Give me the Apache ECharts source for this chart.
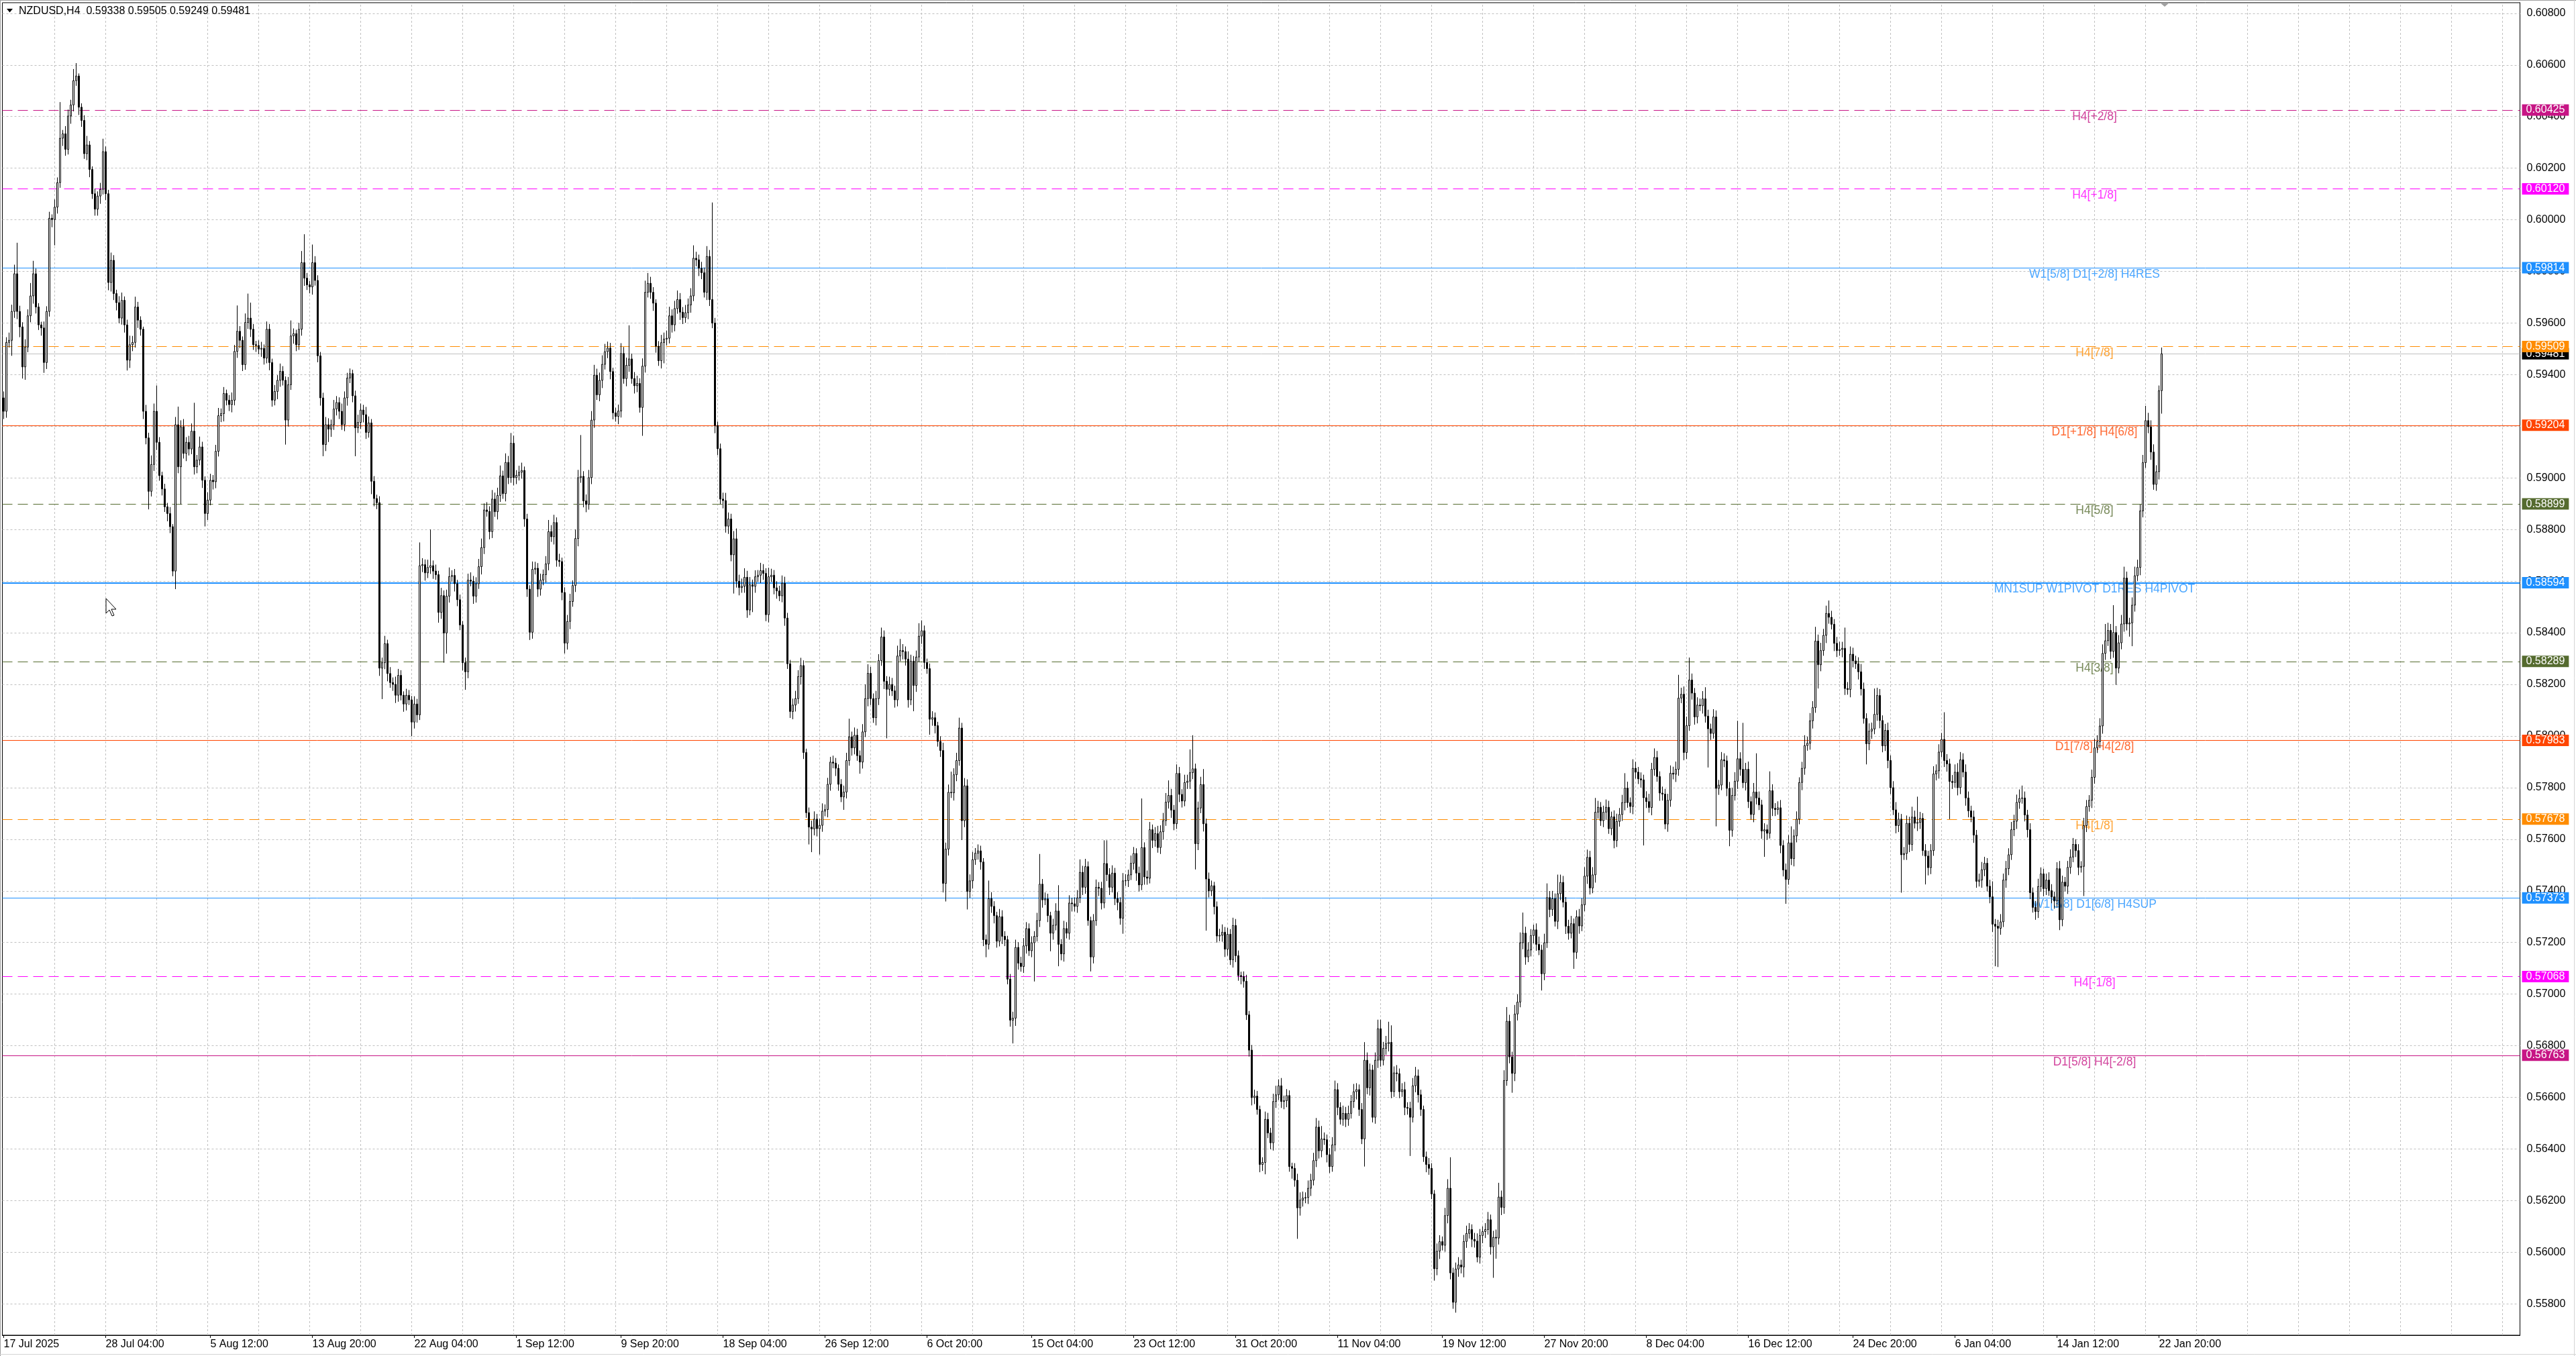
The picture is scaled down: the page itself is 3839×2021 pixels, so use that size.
<!DOCTYPE html>
<html><head><meta charset="utf-8">
<script src="https://cdn.jsdelivr.net/npm/echarts@6/dist/echarts.min.js"></script>
<style>html,body{margin:0;padding:0;background:#fff;overflow:hidden}#c{width:3839px;height:2021px}</style>
</head><body><div id="c"></div><script>
// NZDUSD H4 candles, prices in units of 0.00001
const firstOpen = 59310;
const closes = [
59258,59525,59533,59645,59791,59645,59585,59430,59507,59628,59705,59791,59662,59593,59581,59447,59645,60006,60001,60049,
60144,60316,60333,60273,60402,60445,60539,60557,60436,60385,60256,60290,60195,60101,60041,60092,60118,60264,60101,59757,
59843,59714,59679,59619,59688,59593,59456,59516,59525,59662,59611,59576,59258,59155,58948,59052,59258,59138,59009,58957,
58888,58862,58811,58639,59206,59043,59198,59095,59138,59112,59181,59043,59069,59120,58991,58862,58914,58991,58985,59103,
59241,59249,59327,59301,59284,59301,59490,59568,59533,59439,59602,59619,59576,59516,59513,59499,59502,59464,59576,59447,
59301,59335,59378,59413,59378,59224,59361,59550,59559,59516,59576,59834,59774,59748,59740,59834,59765,59473,59310,59129,
59206,59189,59206,59267,59292,59258,59206,59310,59387,59404,59318,59194,59215,59263,59245,59176,59213,58987,58920,58904,
58263,58284,58358,58242,58207,58200,58158,58235,58158,58124,58158,58140,58054,58124,58082,58660,58664,58632,58653,58660,
58639,58625,58479,58544,58399,58542,58618,58622,58590,58528,58430,58284,58249,58604,58600,58542,58590,58656,58730,58876,
58870,58792,58918,58869,58932,59008,58939,59060,59001,59134,59001,59010,59022,59029,58841,58569,58402,58646,58650,58569,
58604,58625,58667,58792,58772,58827,58681,58676,58556,58360,58444,58521,58583,58765,59001,59006,58911,58897,59001,59224,
59398,59322,59378,59440,59489,59503,59412,59252,59238,59259,59482,59385,59436,59461,59385,59357,59366,59273,59433,59719,
59754,59719,59677,59510,59454,59524,59538,59541,59628,59593,59656,59691,59642,59621,59640,59670,59705,59851,59845,59812,
59795,59719,59858,59691,59600,59203,59113,58918,58912,58813,58841,58702,58764,58600,58575,58580,58615,58488,58586,58580,
58617,58623,58641,58630,58470,58617,58623,58574,58562,58543,58592,58457,58280,58095,58120,58145,58230,58273,57936,57703,
57647,57640,57678,57641,57654,57709,57715,57813,57899,57895,57875,57813,57764,57783,57905,57997,57954,58003,57924,57899,
58016,58145,58243,58145,58071,58145,58292,58384,58212,58181,58200,58175,58140,58310,58331,58327,58298,58140,58290,58196,
58306,58387,58408,58285,58261,58065,58071,58040,57979,57944,57429,57562,57782,57780,57850,57905,58031,57672,57807,57398,
57439,57521,57546,57555,57512,57211,57193,57370,57340,57304,57205,57300,57224,57211,57058,56899,56907,57181,57120,57107,
57187,57254,57168,57199,57224,57285,57426,57365,57369,57304,57236,57267,57322,57193,57156,57254,57236,57353,57350,57340,
57373,57472,57414,57494,57285,57144,57285,57414,57410,57353,57506,57463,57414,57469,57370,57355,57294,57439,57440,57462,
57507,57545,57469,57423,57568,57454,57449,57637,57596,57622,57568,57629,57672,57744,57770,57713,57660,57855,57774,57748,
57820,57825,57858,57873,57583,57721,57812,57660,57446,57400,57420,57339,57225,57228,57240,57174,57232,57133,57266,57149,
57072,57068,57050,56920,56783,56599,56605,56553,56340,56348,56515,56462,56424,56584,56610,56645,56584,56587,56607,56332,
56325,56279,56172,56202,56210,56212,56248,56279,56355,56485,56393,56439,56436,56378,56332,56416,56630,56561,56515,56538,
56515,56538,56584,56622,56630,56553,56439,56744,56637,56706,56523,56744,56866,56744,56790,56808,56813,56622,56695,56692,
56622,56630,56561,56558,56523,56645,56683,56610,56553,56370,56340,56325,56226,55936,56004,56041,56027,56142,56248,55920,
55806,55935,55951,55943,56042,56073,56088,56050,56043,55981,56065,56080,56088,56126,56021,56058,56055,56214,56174,56665,
56895,56757,56693,56923,56969,57199,57236,57144,57171,57227,57249,57193,57171,57079,57199,57374,57328,57370,57282,57389,
57433,57356,57263,57236,57273,57162,57300,57264,57346,57457,57530,57411,57462,57705,57724,57672,57705,57724,57641,57687,
57595,57669,57696,57742,57798,57742,57727,57875,57860,57834,57830,57761,57746,57723,57871,57917,57843,57779,57775,57659,
57751,57856,57852,57871,58147,58162,57936,58040,58217,58166,58074,58120,58117,58144,58077,58028,58010,58074,57797,57810,
57908,57904,57797,57635,57770,57825,57912,57871,57819,57871,57746,57696,57783,57760,57733,57632,57637,57623,57788,57720,
57715,57722,57576,57481,57444,57586,57525,57613,57678,57820,57875,57963,57972,58059,58110,58368,58276,58331,58390,58475,
58460,58433,58359,58331,58335,58340,58184,58180,58317,58291,58280,58249,58182,58068,57970,58019,58027,58084,58157,58060,
57962,58022,57905,57800,57714,57653,57678,57540,57545,57662,57580,57686,57662,57665,57681,57556,57535,57490,57556,57853,
57865,57938,57987,57905,57892,57824,57820,57860,57800,57908,57860,57760,57710,57686,57616,57437,57442,57482,57507,57418,
57377,57271,57263,57255,57280,57442,57486,57540,57637,57670,57743,57758,57760,57694,57637,57393,57336,57320,57417,57466,
57409,57442,57401,57377,57361,57486,57288,57434,57418,57491,57531,57580,57556,57491,57495,57653,57727,57751,57840,57954,
57978,58039,58320,58369,58409,58328,58401,58263,58361,58434,58612,58434,58438,58507,58621,58653,58872,59059,59222,59198,
59100,58975,59024,59338,59481];
// wick lengths above the body top / below the body bottom (0.00001 units)
const upWick = [
25,20,30,26,35,120,22,18,30,25,50,50,20,15,12,25,20,25,15,30,
20,140,15,30,25,20,45,50,10,15,20,35,15,12,20,18,25,50,20,15,
30,20,15,25,30,15,20,35,25,40,20,15,10,25,20,35,30,100,20,15,
20,15,25,10,30,70,25,30,20,25,30,110,20,40,20,15,30,25,20,25,
30,20,25,15,20,30,25,100,20,15,35,95,60,20,15,20,25,15,30,20,
15,25,20,30,20,15,30,60,20,15,25,45,110,20,15,70,25,20,15,20,
30,25,20,35,25,20,30,25,20,20,15,20,30,25,20,30,25,15,20,15,
25,20,30,15,25,20,30,25,20,15,25,20,15,30,20,90,25,20,30,140,
20,25,15,30,20,25,35,20,25,15,20,15,20,25,30,20,25,30,35,25,
30,20,35,25,30,40,20,35,25,40,30,20,25,30,15,20,15,30,25,20,
25,20,30,45,25,30,20,25,15,20,25,30,20,35,30,160,20,25,30,35,
40,25,30,35,30,25,20,15,20,25,40,25,30,130,20,25,30,20,30,45,
40,25,20,15,20,30,25,30,35,25,30,35,25,20,30,25,30,50,25,20,
25,20,40,25,376,20,15,20,25,30,25,20,30,40,25,30,35,25,30,20,
25,20,30,25,20,35,25,20,25,20,30,25,20,15,25,30,25,30,20,15,
20,25,30,20,25,30,20,25,20,25,20,15,20,25,30,70,20,30,25,20,
30,55,35,25,20,30,25,36,25,20,30,25,20,40,45,25,20,30,25,20,
25,50,40,20,15,20,25,20,15,20,30,25,30,80,25,30,40,20,30,25,
25,30,20,25,20,15,20,70,25,20,15,30,25,20,15,20,25,30,20,25,
30,25,20,25,20,30,117,20,25,20,15,25,30,100,20,30,25,30,20,25,
30,50,25,30,20,15,25,30,20,25,90,90,25,30,20,25,20,30,25,20,
30,25,20,25,190,20,25,30,20,25,30,25,30,35,58,25,20,35,25,20,
30,25,90,130,20,25,30,60,20,25,20,15,20,25,30,20,25,20,30,25,
20,15,20,25,15,20,25,20,15,20,30,25,20,30,35,25,30,20,25,20,
15,20,25,30,25,20,30,25,30,35,25,50,25,20,25,30,35,25,20,30,
25,30,25,30,25,20,25,70,30,25,20,30,35,35,25,30,80,66,25,30,
20,25,30,20,25,30,35,25,20,15,20,25,20,15,30,25,20,30,35,120,
20,25,30,20,25,30,25,20,25,30,25,20,25,30,20,25,30,55,25,40,
55,25,20,35,30,40,80,25,30,25,20,25,30,20,35,55,25,30,20,74,
30,25,20,25,30,20,25,30,25,35,30,25,30,55,25,20,25,30,25,20,
25,30,25,30,58,25,20,35,25,20,25,20,25,30,25,35,25,20,25,20,
25,30,25,30,90,25,30,35,87,25,20,30,25,30,45,25,20,30,25,20,
30,25,20,25,30,35,147,25,180,25,30,20,35,150,25,20,25,20,75,25,
20,25,30,20,25,30,64,25,30,20,25,40,25,30,25,55,25,30,25,30,
50,25,20,25,30,25,80,25,30,25,20,25,30,25,20,30,25,100,30,25,
20,25,30,20,25,30,25,20,25,30,25,40,25,100,25,20,25,20,25,30,
25,30,25,105,25,20,25,30,35,30,25,30,25,20,25,20,25,30,25,20,
25,60,20,25,30,25,30,25,30,25,30,35,48,25,20,25,20,25,30,25,
20,25,30,25,20,25,30,25,20,25,30,25,20,25,20,30,25,20,30,35,
25,30,35,65,30,25,106,25,30,35,44,25,20,30,35,30,25,30,57,30,
25,30,25,20,24];
const downWick = [
30,25,20,60,25,30,40,45,50,20,25,30,25,20,30,40,25,20,30,100,
25,20,30,25,20,30,25,20,30,25,20,25,30,20,25,25,30,20,25,30,
35,25,30,20,25,30,40,30,25,20,30,25,30,25,70,20,25,30,20,25,
20,30,25,20,70,25,146,20,30,25,20,30,25,20,30,50,25,20,30,25,
20,25,30,20,25,30,20,25,30,25,20,25,30,20,25,20,30,25,20,30,
25,20,30,25,20,95,25,20,30,25,20,25,30,20,25,30,20,25,30,45,
25,50,30,20,25,30,20,25,30,20,25,110,20,25,30,25,20,50,30,25,
30,120,25,30,20,25,30,25,20,30,25,20,55,25,30,20,25,30,20,25,
30,20,40,25,115,80,25,20,30,25,20,30,70,25,20,30,25,20,30,25,
20,30,25,20,30,25,20,30,25,20,30,25,20,25,30,30,30,25,20,30,
25,20,30,25,20,30,25,20,30,40,25,30,20,25,30,20,25,30,20,25,
30,20,25,30,20,25,30,25,20,30,25,20,30,25,20,30,25,20,110,25,
20,25,30,25,20,30,80,25,20,30,25,20,30,25,20,25,30,20,25,30,
25,20,30,25,20,30,25,20,30,25,30,25,150,25,30,20,25,30,20,100,
25,20,30,25,25,30,20,25,30,20,25,30,20,25,30,25,20,30,25,20,
67,90,25,30,100,25,20,30,25,20,30,25,20,50,25,20,30,25,20,45,
25,20,30,25,20,30,25,20,30,190,25,20,30,25,20,30,25,30,20,100,
25,20,30,25,20,60,25,30,20,25,35,70,25,20,30,25,20,75,25,70,
25,30,20,25,30,25,50,20,25,30,25,20,30,25,20,25,90,30,25,20,
25,30,20,25,150,20,25,30,20,25,70,25,20,85,25,30,20,25,30,20,
25,20,30,25,20,56,25,20,30,25,20,25,30,20,25,30,25,60,20,25,
20,25,30,25,20,30,25,20,30,25,20,25,30,20,25,30,25,20,30,25,
20,25,30,25,100,25,20,30,200,25,20,30,25,20,25,30,25,20,30,25,
20,30,25,20,25,30,25,20,30,25,46,20,25,30,25,20,25,30,25,20,
40,25,120,30,25,20,25,30,20,25,30,25,20,30,25,20,25,30,20,25,
30,25,20,25,30,25,20,107,25,30,20,25,30,25,20,25,30,25,20,30,
25,20,30,25,150,20,25,30,25,20,30,25,20,46,25,30,20,25,30,25,
25,40,30,25,40,25,20,30,25,20,25,30,25,20,30,120,80,25,30,25,
20,25,75,30,25,20,25,30,20,25,30,25,20,65,25,20,30,25,20,30,
25,20,30,25,20,64,25,30,20,25,30,25,20,30,25,20,25,30,20,25,
30,25,20,25,30,20,25,30,25,20,30,185,25,20,30,25,20,30,25,20,
30,25,20,30,25,20,30,25,20,25,30,25,20,30,25,150,25,20,147,25,
20,25,30,62,25,20,30,25,20,30,25,20,30,25,20,30,100,25,20,30,
25,20,30,25,94,20,25,30,25,20,30,25,20,25,30,20,92,25,20,30,
25,20,30,25,20,30,25,20,30,25,20,30,25,20,80,25,30,20,25,30,
25,20,30,25,20,30,25,147,20,25,30,25,20,30,25,20,110,30,25,20,
25,30,20,25,30,146,25,20,30,25,20,30,25,20,30,25,20,30,25,20,
25,30,155,150,25,20,30,25,20,25,30,25,20,25,30,25,20,32,25,20,
30,25,20,25,30,25,40,25,20,30,25,20,25,30,20,115,25,20,30,25,
20,25,30,25,20,30,25,65,20,25,30,25,49,90,25,20,30,25,20,25,
30,21,25,30,89];

const totalSlots = 938;            // bar slots across the chart width (incl. right shift)
const priceTicks = [0.558,0.560,0.562,0.564,0.566,0.568,0.570,0.572,0.574,0.576,0.578,0.580,0.582,0.584,0.586,0.588,0.590,0.592,0.594,0.596,0.598,0.600,0.602,0.604,0.606,0.608];
const gridBars = [19,38,57,76,95,114,133,152,171,190,209,228,247,266,285,304,323,342,361,380,399,418,437,456,475,494,513,532,551,570,589,608,627,646,665,684,703,722,741,760,779,798,817,836,855,874,893,912,931];
const dateLabelBars = [0,38,77,115,153,191,230,268,306,344,383,421,459,497,536,574,612,650,689,727,765,803];
const dateLabels = ['17 Jul 2025','28 Jul 04:00','5 Aug 12:00','13 Aug 20:00','22 Aug 04:00','1 Sep 12:00','9 Sep 20:00','18 Sep 04:00','26 Sep 12:00','6 Oct 20:00','15 Oct 04:00','23 Oct 12:00','31 Oct 20:00','11 Nov 04:00','19 Nov 12:00','27 Nov 20:00','8 Dec 04:00','16 Dec 12:00','24 Dec 20:00','6 Jan 04:00','14 Jan 12:00','22 Jan 20:00'];
const levelPrices = [0.60425,0.60120,0.59814,0.59509,0.59204,0.58899,0.58594,0.58289,0.57983,0.57678,0.57373,0.57068,0.56763];
const levelNames = ['H4[+2/8]','H4[+1/8]','W1[5/8] D1[+2/8] H4RES','H4[7/8]','D1[+1/8] H4[6/8]','H4[5/8]','MN1SUP W1PIVOT D1RES H4PIVOT','H4[3/8]','D1[7/8] H4[2/8]','H4[1/8]','W1[3/8] D1[6/8] H4SUP','H4[-1/8]','D1[5/8] H4[-2/8]'];
const levelColors = ['#C71585','#FF00FF','#1E90FF','#FF8C00','#FF4500','#556B2F','#1E90FF','#556B2F','#FF4500','#FF8C00','#1E90FF','#FF00FF','#C71585'];
const levelDashed = [true,true,false,true,false,true,false,true,false,true,false,true,false];
const levelWidths = [1,1,1,1,1,1,2,1,1,1,1,1,1];
const levelLabelBar = 779;
const symbolName = 'NZDUSD,H4';

const FONT = '"Liberation Sans", Arial, sans-serif';
const candles = closes.map((c, i) => {
  const o = i ? closes[i - 1] : firstOpen;
  const hi = Math.max(o, c) + upWick[i];
  const lo = Math.min(o, c) - downWick[i];
  return [o / 1e5, c / 1e5, lo / 1e5, hi / 1e5];
});
const last = candles[candles.length - 1];
const bidPrice = last[1];
const cats = Array.from({length: totalSlots}, (_, i) => String(i));
const labelAt = {};
dateLabelBars.forEach((b, k) => { labelAt[b] = dateLabels[k]; });

const chart = echarts.init(document.getElementById('c'), null, {renderer: 'canvas'});
chart.setOption({
  animation: false,
  backgroundColor: '#ffffff',
  title: {
    text: symbolName + '  ' + [last[0], last[3], last[2], last[1]].map(v => v.toFixed(5)).join(' '),
    left: 28, top: 9, padding: 0,
    textStyle: {fontSize: 16, fontWeight: 'normal', color: '#000', fontFamily: FONT}
  },
  grid: {left: 3.5, top: 4, right: 83.5, bottom: 31, show: true, borderColor: '#000', borderWidth: 1, backgroundColor: 'transparent'},
  xAxis: {
    type: 'category', data: cats, boundaryGap: true,
    axisLine: {show: true, lineStyle: {color: '#000', width: 1}},
    axisTick: {show: true, alignWithLabel: true, length: 4, interval: (i) => labelAt[i] !== undefined, lineStyle: {color: '#000'}},
    axisLabel: {show: true, interval: (i) => labelAt[i] !== undefined, formatter: (v, i) => labelAt[i] !== undefined ? labelAt[i] : '',
      align: 'left', margin: 6, fontSize: 16, color: '#000', fontFamily: FONT},
    splitLine: {show: false}
  },
  yAxis: {
    type: 'value', position: 'right', min: 0.556786, max: 0.608411, scale: true,
    axisLine: {show: true, lineStyle: {color: '#000', width: 1}},
    axisTick: {show: false, customValues: priceTicks},
    axisLabel: {show: true, customValues: priceTicks, formatter: v => v.toFixed(5), margin: 10, fontSize: 16, color: '#000', fontFamily: FONT},
    splitLine: {show: false}
  },
  graphic: [
    {type: 'polygon', shape: {points: [[10,13],[19,13],[14.5,18.5]]}, style: {fill: '#000'}, z: 100},
    {type: 'polygon', shape: {points: [[3219,4],[3233,4],[3226,10]]}, style: {fill: '#a0a0a0'}, z: 100},
    {type: 'line', shape: {x1: 0, y1: 0.5, x2: 3839, y2: 0.5}, style: {stroke: '#a0a0a0', lineWidth: 1}, z: 100},
    {type: 'line', shape: {x1: 0.5, y1: 0, x2: 0.5, y2: 2021}, style: {stroke: '#a0a0a0', lineWidth: 1}, z: 100},
    {type: 'line', shape: {x1: 3836.5, y1: 0, x2: 3836.5, y2: 2021}, style: {stroke: '#d4d4d4', lineWidth: 1}, z: 100},
    {type: 'line', shape: {x1: 0, y1: 2018.5, x2: 3839, y2: 2018.5}, style: {stroke: '#d4d4d4', lineWidth: 1}, z: 100},
    {type: 'polygon', x: 158, y: 892, shape: {points: [[0,0],[0,22],[5,17],[9,26],[12,25],[8,16],[15,16]]}, style: {fill: '#fff', stroke: '#000', lineWidth: 1}, z: 100}
  ],
  series: [
    {
      type: 'line', name: 'grid', data: [], silent: true, z: 1,
      markLine: {
        silent: true, symbol: ['none', 'none'], animation: false, z: 1, precision: 6,
        label: {show: false},
        lineStyle: {color: '#c0c0c0', type: [3, 3], width: 1},
        data: priceTicks.map(p => ({yAxis: p})).concat(gridBars.map(b => ({xAxis: b})))
      }
    },
    {
      type: 'line', name: 'bid', data: [], silent: true, z: 2,
      markLine: {
        silent: true, symbol: ['none', 'none'], animation: false, z: 2, precision: 6,
        data: [{yAxis: bidPrice, lineStyle: {color: '#c0c0c0', type: 'solid', width: 1},
          label: {show: true, position: 'end', distance: 3, formatter: bidPrice.toFixed(5), color: '#fff', backgroundColor: '#000',
            padding: [1, 6, 0, 6], lineHeight: 16, fontSize: 16, fontFamily: FONT}}]
      }
    },
    {
      type: 'line', name: 'levels', data: [], silent: true, z: 3,
      markLine: {
        silent: true, symbol: ['none', 'none'], animation: false, z: 3, precision: 6,
        data: levelPrices.map((p, k) => ({
          yAxis: p,
          lineStyle: {color: levelColors[k], type: levelDashed[k] ? [15, 8] : 'solid', width: levelWidths[k]},
          label: {show: true, position: 'end', distance: 3, formatter: p.toFixed(5), color: '#fff', backgroundColor: levelColors[k],
            padding: [1, 6, 0, 6], lineHeight: 16, fontSize: 16, fontFamily: FONT}
        }))
      }
    },
    {
      type: 'scatter', name: 'levelNames', silent: true, z: 3, symbolSize: 0,
      data: levelPrices.map((p, k) => ({value: [levelLabelBar, p], name: levelNames[k],
        label: {color: levelColors[k]}})),
      label: {show: true, position: 'bottom', distance: 1, formatter: '{b}', fontSize: 17.5, lineHeight: 18, fontFamily: FONT}
    },
    {
      type: 'candlestick', name: 'NZDUSD', data: candles, z: 4, barWidth: 2, large: false, progressive: 0,
      silent: true,
      itemStyle: {color: '#ffffff', color0: '#000000', borderColor: '#000000', borderColor0: '#000000', borderWidth: 1}
    }
  ]
});
</script></body></html>
